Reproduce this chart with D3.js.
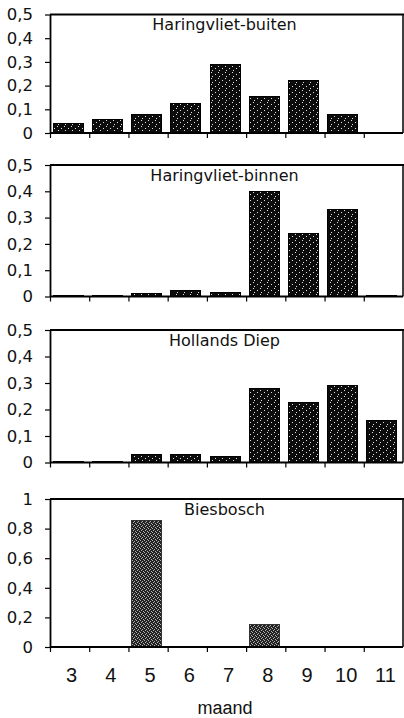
<!DOCTYPE html>
<html>
<head>
<meta charset="utf-8">
<script src="https://cdn.jsdelivr.net/npm/d3@7"></script>
<style>
  html, body { margin: 0; padding: 0; background: #fff; }
  svg { display: block; }
</style>
</head>
<body>
<script>
// Months on the x axis
const months = [3, 4, 5, 6, 7, 8, 9, 10, 11];

// Monthly values per area
const haringvlietBuiten = [0.042, 0.055, 0.078, 0.124, 0.29, 0.152, 0.222, 0.078, 0.003];
const haringvlietBinnen = [0.003, 0.003, 0.011, 0.022, 0.017, 0.398, 0.239, 0.332, 0.003];
const hollandsDiep      = [0.003, 0.004, 0.029, 0.029, 0.022, 0.281, 0.227, 0.289, 0.157];
const biesbosch         = [0, 0, 0.855, 0.004, 0, 0.153, 0, 0, 0.006];

// Y tick values
const ticksHalf = [0, 0.1, 0.2, 0.3, 0.4, 0.5];
const ticksOne  = [0, 0.2, 0.4, 0.6, 0.8, 1];

const titles = ["Haringvliet-buiten", "Haringvliet-binnen", "Hollands Diep", "Biesbosch"];
const xTitle = "maand";

const W = 404, H = 718;
const left = 50, right = 403;

// Vertical placement of the four stacked panels
const panels = [
  { title: titles[0], values: haringvlietBuiten, ticks: ticksHalf, top: 14.5, base: 133, fill: "url(#stipple)" },
  { title: titles[1], values: haringvlietBinnen, ticks: ticksHalf, top: 165,  base: 296.5, fill: "url(#stipple)" },
  { title: titles[2], values: hollandsDiep,      ticks: ticksHalf, top: 330,  base: 462.5, fill: "url(#stipple)" },
  { title: titles[3], values: biesbosch,         ticks: ticksOne,  top: 499,  base: 647, fill: "url(#halftone)" }
];

const svg = d3.select("body").append("svg")
  .attr("width", W).attr("height", H);

// Fill textures for the bars
const defs = svg.append("defs");
const stip = defs.append("pattern").attr("id", "stipple")
  .attr("patternUnits", "userSpaceOnUse").attr("width", 7).attr("height", 6);
stip.append("rect").attr("width", 7).attr("height", 6).attr("fill", "#0c0c0c");
[[1, 0], [5, 2], [2, 4]].forEach(([x, y]) =>
  stip.append("rect").attr("x", x).attr("y", y).attr("width", 1).attr("height", 1).attr("fill", "#e0e0e0"));

const half = defs.append("pattern").attr("id", "halftone")
  .attr("patternUnits", "userSpaceOnUse").attr("width", 4).attr("height", 4);
half.append("rect").attr("width", 4).attr("height", 4).attr("fill", "#222");
[[0, 0], [2, 1], [1, 2], [3, 3]].forEach(([x, y]) =>
  half.append("rect").attr("x", x).attr("y", y).attr("width", 1).attr("height", 1).attr("fill", "#b0b0b0"));

// Shared x scales: one for bars, one for tick positions at category edges
const xBar = d3.scaleBand().domain(months).range([left, right])
  .paddingInner(0.24).paddingOuter(0.12);
const xEdge = d3.scaleBand().domain(months).range([left, right]).padding(0);

const fmt = v => String(v).replace(".", ",");

panels.forEach((p, i) => {
  const g = svg.append("g");
  const ymax = p.ticks[p.ticks.length - 1];
  const y = d3.scaleLinear().domain([0, ymax]).range([p.base, p.top]);

  // bars
  g.selectAll("rect.bar").data(months.map((m, k) => ({ m, v: p.values[k] })))
    .join("rect").attr("class", "bar")
    .attr("x", d => Math.round(xBar(d.m) - 2))
    .attr("width", Math.round(xBar.bandwidth()))
    .attr("y", d => y(d.v))
    .attr("height", d => p.base - y(d.v))
    .attr("fill", p.fill)
    .attr("stroke", i === 3 ? "#333" : "#000")
    .attr("stroke-width", 1)
    .attr("shape-rendering", "crispEdges");

  // frame: top and right edges
  g.append("line").attr("x1", left).attr("x2", right + 1)
    .attr("y1", p.top).attr("y2", p.top)
    .attr("stroke", "#000").attr("stroke-width", 2);
  g.append("line").attr("x1", right).attr("x2", right)
    .attr("y1", p.top).attr("y2", p.base)
    .attr("stroke", "#000").attr("stroke-width", 1.5);

  // baseline with ticks at category edges
  g.append("line").attr("x1", left).attr("x2", right)
    .attr("y1", p.base).attr("y2", p.base)
    .attr("stroke", "#000").attr("stroke-width", 1.8);
  g.selectAll("line.xt").data(months).join("line").attr("class", "xt")
    .attr("x1", d => xEdge(d) + 0.5).attr("x2", d => xEdge(d) + 0.5)
    .attr("y1", p.base).attr("y2", p.base + 5)
    .attr("stroke", "#000").attr("stroke-width", 1.2);

  // y axis
  const ax = g.append("g").attr("transform", `translate(${left},0)`)
    .call(d3.axisLeft(y).tickValues(p.ticks).tickFormat(fmt)
      .tickSize(5).tickSizeOuter(0).tickPadding(12));
  ax.select(".domain").attr("stroke-width", 1.8);
  ax.selectAll(".tick line").attr("stroke-width", 1.2);
  ax.selectAll(".tick text")
    .attr("font-family", "'DejaVu Sans', sans-serif")
    .attr("font-size", 16.5).attr("fill", "#111");

  // panel title
  g.append("text").attr("x", (left + right) / 2 - 2).attr("y", p.top + 15.5)
    .attr("text-anchor", "middle")
    .attr("font-family", "'DejaVu Sans', sans-serif")
    .attr("font-size", 16).attr("fill", "#111")
    .text(p.title);
});

// month labels under the last panel
const last = panels[panels.length - 1];
svg.append("g").selectAll("text").data(months).join("text")
  .attr("x", d => xEdge(d) + xEdge.bandwidth() / 2 + 2)
  .attr("y", last.base + 35)
  .attr("text-anchor", "middle")
  .attr("font-family", "'Liberation Sans', Arial, sans-serif")
  .attr("font-size", 20).attr("fill", "#111")
  .text(d => d);

svg.append("text").attr("x", 225).attr("y", 714)
  .attr("text-anchor", "middle")
  .attr("font-family", "'Liberation Sans', Arial, sans-serif")
  .attr("font-size", 18).attr("fill", "#111")
  .text(xTitle);
</script>
</body>
</html>
